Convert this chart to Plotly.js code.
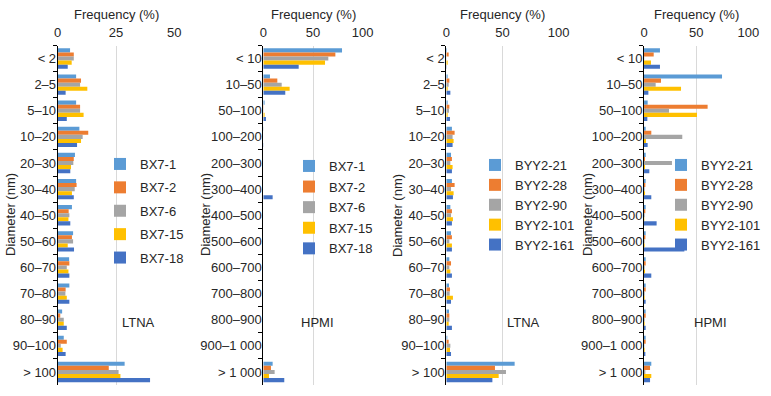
<!DOCTYPE html>
<html>
<head>
<meta charset="utf-8">
<script src="https://cdn.plot.ly/plotly-3.0.1.min.js"></script>
<style>
  html, body { margin: 0; padding: 0; background: #fff; }
  #chart { width: 771px; height: 396px; }
</style>
</head>
<body>
<div id="chart"></div>
<script>
// Pore size distribution, frequency (%) per diameter class (nm)

// categories
let cats_ltna = ['< 2', '2–5', '5–10', '10–20', '20–30', '30–40', '40–50', '50–60', '60–70', '70–80', '80–90', '90–100', '> 100'];
let cats_hpmi = ['< 10', '10–50', '50–100', '100–200', '200–300', '300–400', '400–500', '500–600', '600–700', '700–800', '800–900', '900–1 000', '> 1 000'];

let names_bx7 = ['BX7-1', 'BX7-2', 'BX7-6', 'BX7-15', 'BX7-18'];
let names_byy2 = ['BYY2-21', 'BYY2-28', 'BYY2-90', 'BYY2-101', 'BYY2-161'];

// BX7, LTNA
let bx7_1_ltna  = [5.3, 7.9, 7.9, 9.3, 7.4, 7.9, 6.1, 6.6, 4.9, 5.0, 1.9, 2.6, 28.7];
let bx7_2_ltna  = [6.9, 10.0, 9.6, 13.1, 6.9, 8.1, 4.7, 6.1, 5.0, 3.4, 1.1, 3.9, 21.9];
let bx7_6_ltna  = [6.9, 9.6, 9.6, 10.7, 6.7, 7.3, 5.0, 6.6, 3.9, 3.3, 2.6, 1.3, 26.1];
let bx7_15_ltna = [6.0, 12.7, 11.1, 10.0, 5.7, 6.1, 4.6, 4.3, 4.6, 3.9, 2.6, 2.1, 26.9];
let bx7_18_ltna = [4.3, 3.4, 3.9, 8.3, 5.4, 6.9, 5.4, 7.0, 5.0, 5.0, 3.9, 3.4, 39.6];

// BX7, HPMI
let bx7_1_hpmi  = [79.2, 6.7, 1.3, 0.2, 0, 0, 0, 0, 0, 0, 0, 0, 9.4];
let bx7_2_hpmi  = [72.5, 14.1, 0.3, 0, 0, 0, 0, 0, 0, 0, 0, 0, 7.7];
let bx7_6_hpmi  = [65.4, 18.5, 0.3, 0, 0, 0, 0, 0, 0, 0, 0, 0, 11.4];
let bx7_15_hpmi = [62.1, 26.5, 1.3, 0, 0, 0, 0, 0, 0, 0, 0, 0, 5.7];
let bx7_18_hpmi = [35.6, 22.1, 2.7, 0.2, 0, 9.4, 0, 0, 0, 0, 0, 0, 21.1];

// BYY2, LTNA
let byy2_21_ltna  = [0.6, 1.2, 1.2, 5.0, 4.2, 5.0, 3.6, 4.2, 2.7, 2.4, 2.4, 0.9, 60.8];
let byy2_28_ltna  = [2.1, 2.7, 2.7, 7.4, 5.0, 7.4, 5.0, 5.0, 4.2, 3.3, 2.7, 2.1, 43.3];
let byy2_90_ltna  = [0.2, 2.1, 2.4, 5.6, 3.6, 4.2, 4.2, 2.7, 2.7, 3.0, 2.7, 3.6, 53.1];
let byy2_101_ltna = [1.2, 1.2, 1.2, 6.5, 5.6, 6.5, 5.9, 5.0, 3.6, 5.9, 2.1, 3.3, 46.6];
let byy2_161_ltna = [0.3, 3.6, 3.3, 5.6, 5.0, 5.9, 5.0, 5.0, 5.0, 4.2, 5.0, 4.2, 41.0];

// BYY2, HPMI
let byy2_21_hpmi  = [15.3, 74.8, 3.5, 1.6, 1.6, 1.6, 1.6, 1.6, 1.6, 1.6, 1.6, 1.6, 7.0];
let byy2_28_hpmi  = [9.3, 16.3, 61.0, 7.0, 1.0, 1.3, 1.3, 1.3, 1.6, 1.6, 1.6, 1.6, 5.8];
let byy2_90_hpmi  = [0.2, 11.2, 24.0, 36.7, 26.8, 0.6, 0.6, 0.6, 0.6, 0.6, 0.6, 0.3, 1.3];
let byy2_101_hpmi = [6.7, 35.5, 50.8, 1.9, 1.0, 1.0, 0.3, 0.6, 1.0, 0.6, 0.6, 0.6, 7.0];
let byy2_161_hpmi = [15.3, 4.2, 3.2, 3.5, 5.1, 7.0, 12.1, 38.7, 7.0, 1.6, 1.6, 1.3, 5.8];

let colors = ['#5B9BD5', '#ED7D31', '#A5A5A5', '#FFC000', '#4472C4'];

const W = 771, H = 396;
const px = v => v / W;
const py = v => 1 - v / H;
const font = {family: 'Liberation Sans, Arial, sans-serif', size: 13, color: '#262626'};

// one entry per panel
var panels = [
  {cats: cats_ltna, names: names_bx7, label: 'LTNA', range: [0, 50], dtick: 25,
   values: [bx7_1_ltna, bx7_2_ltna, bx7_6_ltna, bx7_15_ltna, bx7_18_ltna],
   dom: [57.7, 174.3], ytitle: 10, tag: [138, 322], leg: [100, 149], gap: 3.5},
  {cats: cats_hpmi, names: names_bx7, label: 'HPMI', range: [0, 100], dtick: 50,
   values: [bx7_1_hpmi, bx7_2_hpmi, bx7_6_hpmi, bx7_15_hpmi, bx7_18_hpmi],
   dom: [263.3, 362.7], ytitle: 205, tag: [317.5, 322], leg: [289, 151], gap: 0.7},
  {cats: cats_ltna, names: names_byy2, label: 'LTNA', range: [0, 100], dtick: 50,
   values: [byy2_21_ltna, byy2_28_ltna, byy2_90_ltna, byy2_101_ltna, byy2_161_ltna],
   dom: [446.3, 558.7], ytitle: 397, tag: [523, 322], leg: [475, 150], gap: 0},
  {cats: cats_hpmi, names: names_byy2, label: 'HPMI', range: [0, 100], dtick: 50,
   values: [byy2_21_hpmi, byy2_28_hpmi, byy2_90_hpmi, byy2_101_hpmi, byy2_161_hpmi],
   dom: [644, 748.3], ytitle: 587, tag: [710, 322], leg: [661, 150], gap: 0}
];

var data = [];
var layout = {
  width: W, height: H,
  margin: {t: 0, b: 0, l: 0, r: 0},
  paper_bgcolor: '#fff', plot_bgcolor: '#fff',
  font: font,
  barmode: 'group',
  bargap: 0.22,
  bargroupgap: 0,
  annotations: []
};

panels.forEach(function(p, i) {
  var n = i === 0 ? '' : String(i + 1);
  var legName = 'legend' + n;

  p.values.forEach(function(vals, k) {
    data.push({
      type: 'bar',
      orientation: 'h',
      x: vals,
      y: p.cats,
      name: p.names[k],
      xaxis: 'x' + n,
      yaxis: 'y' + n,
      legend: legName,
      legendgroup: 'p' + i + 's' + k,
      marker: {color: colors[k]},
      hoverinfo: 'name+x+y'
    });
  });

  layout['xaxis' + n] = {
    domain: [px(p.dom[0]), px(p.dom[1])],
    anchor: 'y' + n,
    side: 'top',
    range: p.range,
    dtick: p.dtick,
    showgrid: true,
    gridcolor: '#D9D9D9',
    zeroline: false,
    showline: false,
    ticks: '',
    ticklabelstandoff: 5,
    tickfont: font,
    fixedrange: true
  };
  layout['yaxis' + n] = {
    domain: [py(385), py(45.5)],
    anchor: 'x' + n,
    type: 'category',
    categoryarray: p.cats,
    autorange: 'reversed',
    showline: true,
    linecolor: '#000',
    linewidth: 1,
    ticks: 'outside',
    ticklen: 4,
    tickcolor: '#000',
    tickson: 'boundaries',
    ticklabelstandoff: -2,
    showgrid: false,
    tickfont: font,
    fixedrange: true
  };
  layout[legName] = {
    x: px(p.leg[0]), y: py(p.leg[1]),
    xanchor: 'left', yanchor: 'top',
    bgcolor: 'rgba(0,0,0,0)',
    font: font,
    traceorder: 'grouped',
    tracegroupgap: p.gap
  };

  layout.annotations.push(
    {text: 'Frequency (%)', xref: 'x' + n + ' domain', x: 0.5, yref: 'paper', y: py(14),
     xanchor: 'center', yanchor: 'middle', showarrow: false, font: font},
    {text: 'Diameter (nm)', xref: 'paper', x: px(p.ytitle), yref: 'paper', y: py(215),
     xanchor: 'center', yanchor: 'middle', textangle: -90, showarrow: false, font: font},
    {text: p.label, xref: 'paper', x: px(p.tag[0]), yref: 'paper', y: py(p.tag[1]),
     xanchor: 'center', yanchor: 'middle', showarrow: false, font: font}
  );
});

Plotly.newPlot('chart', data, layout, {displayModeBar: false, staticPlot: true});
</script>
</body>
</html>
